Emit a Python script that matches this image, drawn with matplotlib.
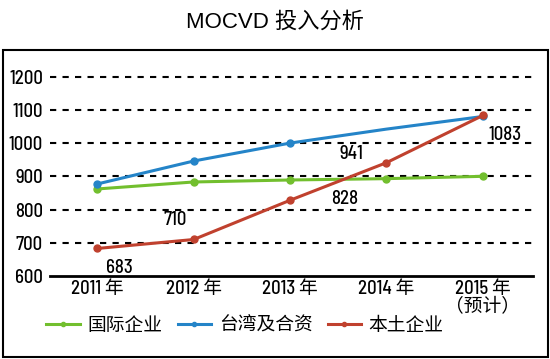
import matplotlib.pyplot as plt
import matplotlib.patches as patches

plt.rcParams['font.family'] = ['Barlow Semi Condensed', 'Noto Sans CJK SC', 'DejaVu Sans']
plt.rcParams['font.weight'] = 'medium'

years = ['2011 年', '2012 年', '2013 年', '2014 年', '2015 年\n（预计）']
intl = [862, 883, 889, 893, 900]
taiwan = [877, 946, 1000, 1042, 1080]
local = [683, 710, 828, 941, 1083]
local_labels = ['683', '710', '828', '941', '1083']

fig = plt.figure(figsize=(5.5, 3.59), dpi=100)
ax = fig.add_axes([0.091, 0.231, 0.878, 0.602])

x = list(range(len(years)))
ax.plot(x, intl, color='#72BF2E', lw=2.2, marker='o', ms=5, label='国际企业')
ax.plot(x, taiwan, color='#2484C8', lw=2.2, marker='o', ms=5, markevery=[0, 1, 2, 4], label='台湾及合资')
ax.plot(x, local, color='#C0412E', lw=2.2, marker='o', ms=5, label='本土企业')

# data labels for the local series
offsets = [(16, -14), (-13, 14), (39, 1), (-25, 6), (16, -14)]
for i, (lab, off) in enumerate(zip(local_labels, offsets)):
    ax.annotate(lab, (x[i], local[i]), xytext=off, textcoords='offset points',
                ha='center', va='center', fontsize=13.5)

ax.set_xlim(-0.49, 4.52)
ax.set_ylim(600, 1250)
ax.set_yticks(range(600, 1201, 100))
ax.set_xticks(x)
ax.set_xticklabels(years, fontsize=13.5, linespacing=0.95)
ax.tick_params(axis='y', length=0, labelsize=13.5, pad=5)
ax.tick_params(axis='x', length=0, pad=3)
for yv in range(700, 1201, 100):
    ax.axhline(yv, color='black', lw=1.5, ls=(0, (3, 3)), zorder=0)
for s in ['left', 'right', 'top']:
    ax.spines[s].set_visible(False)
ax.spines['bottom'].set_linewidth(2)

fig.legend(loc='center', bbox_to_anchor=(245 / 550, 1 - 326 / 359), ncol=3,
           frameon=False, fontsize=13.5, handlelength=1.8, columnspacing=0.8,
           handletextpad=0.4, markerscale=0.6)

fig.text(0.5, 1 - 22 / 359, 'MOCVD 投入分析', ha='center', va='center', fontsize=16,
         family=['Liberation Sans', 'Noto Sans CJK SC'], weight='normal')
fig.patches.append(patches.Rectangle((3 / 550, 1 - 357 / 359), 545 / 550, 307 / 359,
                                     transform=fig.transFigure, fill=False,
                                     edgecolor='black', lw=1.5))

plt.savefig('out.png', dpi=100)
